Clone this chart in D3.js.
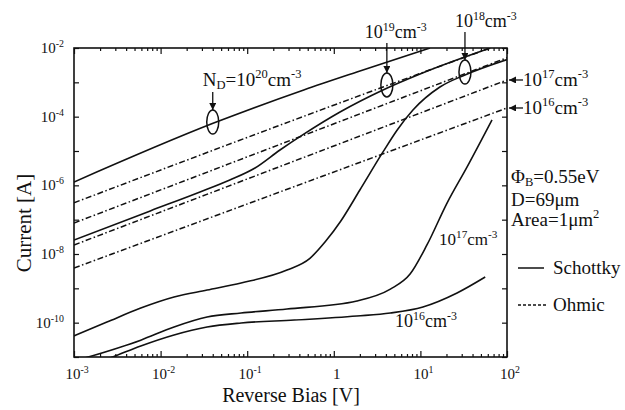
<!DOCTYPE html>
<html>
<head>
<meta charset="utf-8">
<script src="https://cdn.jsdelivr.net/npm/d3@7"></script>
<style>
  body { margin: 0; background: #fff; }
  text { font-family: "Liberation Serif", "Times New Roman", serif; fill: #111; }
</style>
</head>
<body>
<svg></svg>
<script>
let width = 625;
let height = 410;

// axis ticks
const xTickVals = [1e-3, 1e-2, 1e-1, 1, 1e1, 1e2];
const xTickText = [["10", "-3"], ["10", "-2"], ["10", "-1"], ["1", ""], ["10", "1"], ["10", "2"]];
const yTickVals = [1e-2, 1e-4, 1e-6, 1e-8, 1e-10];
const yTickText = [["10", "-2"], ["10", "-4"], ["10", "-6"], ["10", "-8"], ["10", "-10"]];

// Schottky contacts [V, A]
const schottky20 = [[1e-3, 1.25e-6], [0.041, 6.5e-5], [0.45, 6.0e-4], [1.85, 2.0e-3], [12.9, 1e-2]];
const schottky19 = [[1e-3, 2.55e-8], [0.0076, 1.8e-7], [0.0285, 6.4e-7], [0.063, 1.43e-6], [0.123, 3.2e-6],
  [0.239, 1.07e-5], [0.45, 3.1e-5], [1.18, 1.37e-4], [3.7, 6.0e-4], [9.9, 1.75e-3], [64, 1e-2]];
const schottky18 = [[1e-3, 4.1e-11], [0.0024, 1.04e-10], [0.0059, 2.67e-10], [0.0143, 5.6e-10], [0.0344, 8.9e-10],
  [0.085, 1.43e-9], [0.288, 3.4e-9], [0.53, 7.5e-9], [0.8, 2.3e-8], [1.2, 9.0e-8], [2.0, 7.3e-7],
  [3.7, 9.4e-6], [5.4, 4.1e-5], [8.2, 1.56e-4], [16.8, 7.3e-4], [32.7, 1.64e-3], [100, 4.6e-3]];
const schottky17 = [[1e-3, 7.6e-12], [0.0059, 3.1e-11], [0.0143, 7.5e-11], [0.0344, 1.46e-10], [0.085, 1.91e-10],
  [0.288, 2.5e-10], [1.85, 4.3e-10], [4.5, 9.5e-10], [7.6, 2.6e-9], [11.9, 1.83e-8], [20.3, 3.05e-7],
  [34.5, 3.4e-6], [67, 8.0e-5]];
const schottky16 = [[1e-3, 3.9e-12], [0.0028, 1e-11], [0.0059, 2.1e-11], [0.0143, 4.4e-11], [0.0344, 7.5e-11],
  [0.085, 9.8e-11], [0.35, 1.19e-10], [1.85, 1.56e-10], [4.5, 1.91e-10], [10.7, 2.86e-10], [26.5, 7.3e-10],
  [56, 2.13e-9]];

// Ohmic contacts [V, A]
const ohmic19 = [[1e-3, 3.1e-7], [3.7, 7.3e-4], [64, 1e-2]];
const ohmic18 = [[1e-3, 8.0e-8], [100, 5.2e-3]];
const ohmic17 = [[1e-3, 1.83e-8], [100, 1.17e-3]];
const ohmic16 = [[1e-3, 3.9e-9], [100, 1.79e-4]];

// circled groups [V, A] and their labels
const ellipseAt = [[0.040, 7.0e-5], [4.1, 8.4e-4], [32.7, 2.0e-3]];
const ellipseText = [
  [["N", "n"], ["D", "sub"], ["=10", "n"], ["20", "sup"], ["cm", "n"], ["-3", "sup"]],
  [["10", "n"], ["19", "sup"], ["cm", "n"], ["-3", "sup"]],
  [["10", "n"], ["18", "sup"], ["cm", "n"], ["-3", "sup"]]
];

let svg = d3.select('svg').attr('width', width).attr('height', height);
svg.append('rect').attr('width', width).attr('height', height).attr('fill', '#fff');

let x = d3.scaleLog().domain([1e-3, 1e2]).range([74, 507]);
let y = d3.scaleLog().domain([1e-11, 1e-2]).range([357, 48]);
let [x0, x1] = x.range();
let [y0, y1] = y.range();

let defs = svg.append('defs');
defs.append('clipPath').attr('id', 'plot').append('rect')
  .attr('x', x0).attr('y', y1).attr('width', x1 - x0).attr('height', y0 - y1);
defs.append('marker').attr('id', 'arrow').attr('viewBox', '0 0 10 10')
  .attr('refX', 10).attr('refY', 5).attr('markerWidth', 7).attr('markerHeight', 7)
  .attr('markerUnits', 'userSpaceOnUse').attr('orient', 'auto')
  .append('path').attr('d', 'M0,0 L10,5 L0,10 z').attr('fill', '#111');

// text with super/subscripts
function richText(parent, px, py, parts, size, anchor) {
  let t = parent.append('text').attr('x', px).attr('y', py)
    .attr('font-size', size).attr('text-anchor', anchor || 'start');
  let shift = 0;
  parts.forEach(([s, kind]) => {
    if (!s) return;
    let target = kind === 'sup' ? -0.4 * size : kind === 'sub' ? 0.15 * size : 0;
    let ts = t.append('tspan').attr('dy', target - shift).text(s);
    if (kind !== 'n') ts.attr('font-size', size * 0.66);
    shift = target;
  });
  return t;
}

// ticks (inward) on all four sides
let isDecade = d => Math.abs(Math.log10(d) - Math.round(Math.log10(d))) < 1e-6;
function styleAxis(g) {
  g.select('.domain').remove();
  g.selectAll('line').attr('stroke', '#111').attr('stroke-width', 1.2);
}
svg.append('g').attr('transform', 'translate(0,' + y0 + ')')
  .call(d3.axisBottom(x).tickValues(x.ticks().filter(d => !isDecade(d))).tickSize(-3).tickFormat('')).call(styleAxis);
svg.append('g').attr('transform', 'translate(0,' + y0 + ')')
  .call(d3.axisBottom(x).tickValues(xTickVals).tickSize(-6).tickFormat('')).call(styleAxis);
svg.append('g').attr('transform', 'translate(0,' + y1 + ')')
  .call(d3.axisTop(x).tickValues(x.ticks().filter(d => !isDecade(d))).tickSize(-3).tickFormat('')).call(styleAxis);
svg.append('g').attr('transform', 'translate(0,' + y1 + ')')
  .call(d3.axisTop(x).tickValues(xTickVals).tickSize(-6).tickFormat('')).call(styleAxis);
let yDecades = y.ticks().filter(isDecade);
svg.append('g').attr('transform', 'translate(' + x0 + ',0)')
  .call(d3.axisLeft(y).tickValues(yDecades).tickSize(-5).tickFormat('')).call(styleAxis);
svg.append('g').attr('transform', 'translate(' + x1 + ',0)')
  .call(d3.axisRight(y).tickValues(yDecades).tickSize(-5).tickFormat('')).call(styleAxis);

// frame
svg.append('rect').attr('x', x0).attr('y', y1).attr('width', x1 - x0).attr('height', y0 - y1)
  .attr('fill', 'none').attr('stroke', '#111').attr('stroke-width', 1.6);

// tick labels
xTickVals.forEach((v, k) => {
  richText(svg, x(v) + 3, 379, [[xTickText[k][0], 'n'], [xTickText[k][1], 'sup']], 15, 'middle');
});
yTickVals.forEach((v, k) => {
  richText(svg, x0 - 10, y(v) + 5, [[yTickText[k][0], 'n'], [yTickText[k][1], 'sup']], 15, 'end');
});

// axis titles
richText(svg, 291, 402, [['Reverse Bias [V]', 'n']], 20, 'middle');
svg.append('text').attr('transform', 'translate(31,223) rotate(-90)')
  .attr('text-anchor', 'middle').attr('font-size', 21).text('Current [A]');

// curves
let line = d3.line().x(d => x(d[0])).y(d => y(d[1])).curve(d3.curveMonotoneX);
let plot = svg.append('g').attr('clip-path', 'url(#plot)');
[ohmic19, ohmic18, ohmic17, ohmic16].forEach(s => {
  plot.append('path').attr('d', line(s)).attr('fill', 'none').attr('stroke', '#111')
    .attr('stroke-width', 1.5).attr('stroke-dasharray', '6,2.5,1.5,2.5');
});
[schottky20, schottky19, schottky18, schottky17, schottky16].forEach(s => {
  plot.append('path').attr('d', line(s)).attr('fill', 'none').attr('stroke', '#111')
    .attr('stroke-width', 1.6);
});

// circled groups with arrows and labels
let labelOffsets = [[-10, 86, 92], [-22, 38, 43], [-10, 27, 32]];
ellipseAt.forEach((p, k) => {
  let ex = x(p[0]), ey = y(p[1]);
  svg.append('ellipse').attr('cx', ex).attr('cy', ey).attr('rx', 6).attr('ry', 12)
    .attr('fill', 'none').attr('stroke', '#111').attr('stroke-width', 1.5);
  svg.append('line').attr('x1', ex).attr('y1', labelOffsets[k][2]).attr('x2', ex).attr('y2', ey - 12)
    .attr('stroke', '#111').attr('stroke-width', 1.3).attr('marker-end', 'url(#arrow)');
  richText(svg, ex + labelOffsets[k][0], labelOffsets[k][1], ellipseText[k], k === 0 ? 19 : 18, 'start');
});

// right-side labels for the 10^17 and 10^16 lines
[[ohmic17, '17'], [ohmic16, '16']].forEach(([s, e]) => {
  let end = s[s.length - 1];
  let ly = y(end[1]);
  svg.append('line').attr('x1', x1 + 16).attr('y1', ly).attr('x2', x1 + 2).attr('y2', ly)
    .attr('stroke', '#111').attr('stroke-width', 1.3).attr('marker-end', 'url(#arrow)');
  richText(svg, x1 + 16, ly + 6, [['10', 'n'], [e, 'sup'], ['cm', 'n'], ['-3', 'sup']], 19, 'start');
});

// labels on the low curves
richText(svg, x(16) + 1, y(1.83e-8), [['10', 'n'], ['17', 'sup'], ['cm', 'n'], ['-3', 'sup']], 17, 'start');
richText(svg, x(5.1), y(7.5e-11), [['10', 'n'], ['16', 'sup'], ['cm', 'n'], ['-3', 'sup']], 18, 'start');

// parameters
richText(svg, 511, 183, [['\u03A6', 'n'], ['B', 'sub'], ['=0.55eV', 'n']], 19, 'start');
richText(svg, 511, 206, [['D=69\u03BCm', 'n']], 19, 'start');
richText(svg, 511, 226, [['Area=1\u03BCm', 'n'], ['2', 'sup']], 19, 'start');

// legend
svg.append('line').attr('x1', 518).attr('x2', 544).attr('y1', 268).attr('y2', 268)
  .attr('stroke', '#111').attr('stroke-width', 1.5);
richText(svg, 553, 274, [['Schottky', 'n']], 19, 'start');
svg.append('line').attr('x1', 518).attr('x2', 546).attr('y1', 305).attr('y2', 305)
  .attr('stroke', '#111').attr('stroke-width', 1.5).attr('stroke-dasharray', '3,2');
richText(svg, 553, 311, [['Ohmic', 'n']], 19, 'start');
</script>
</body>
</html>
